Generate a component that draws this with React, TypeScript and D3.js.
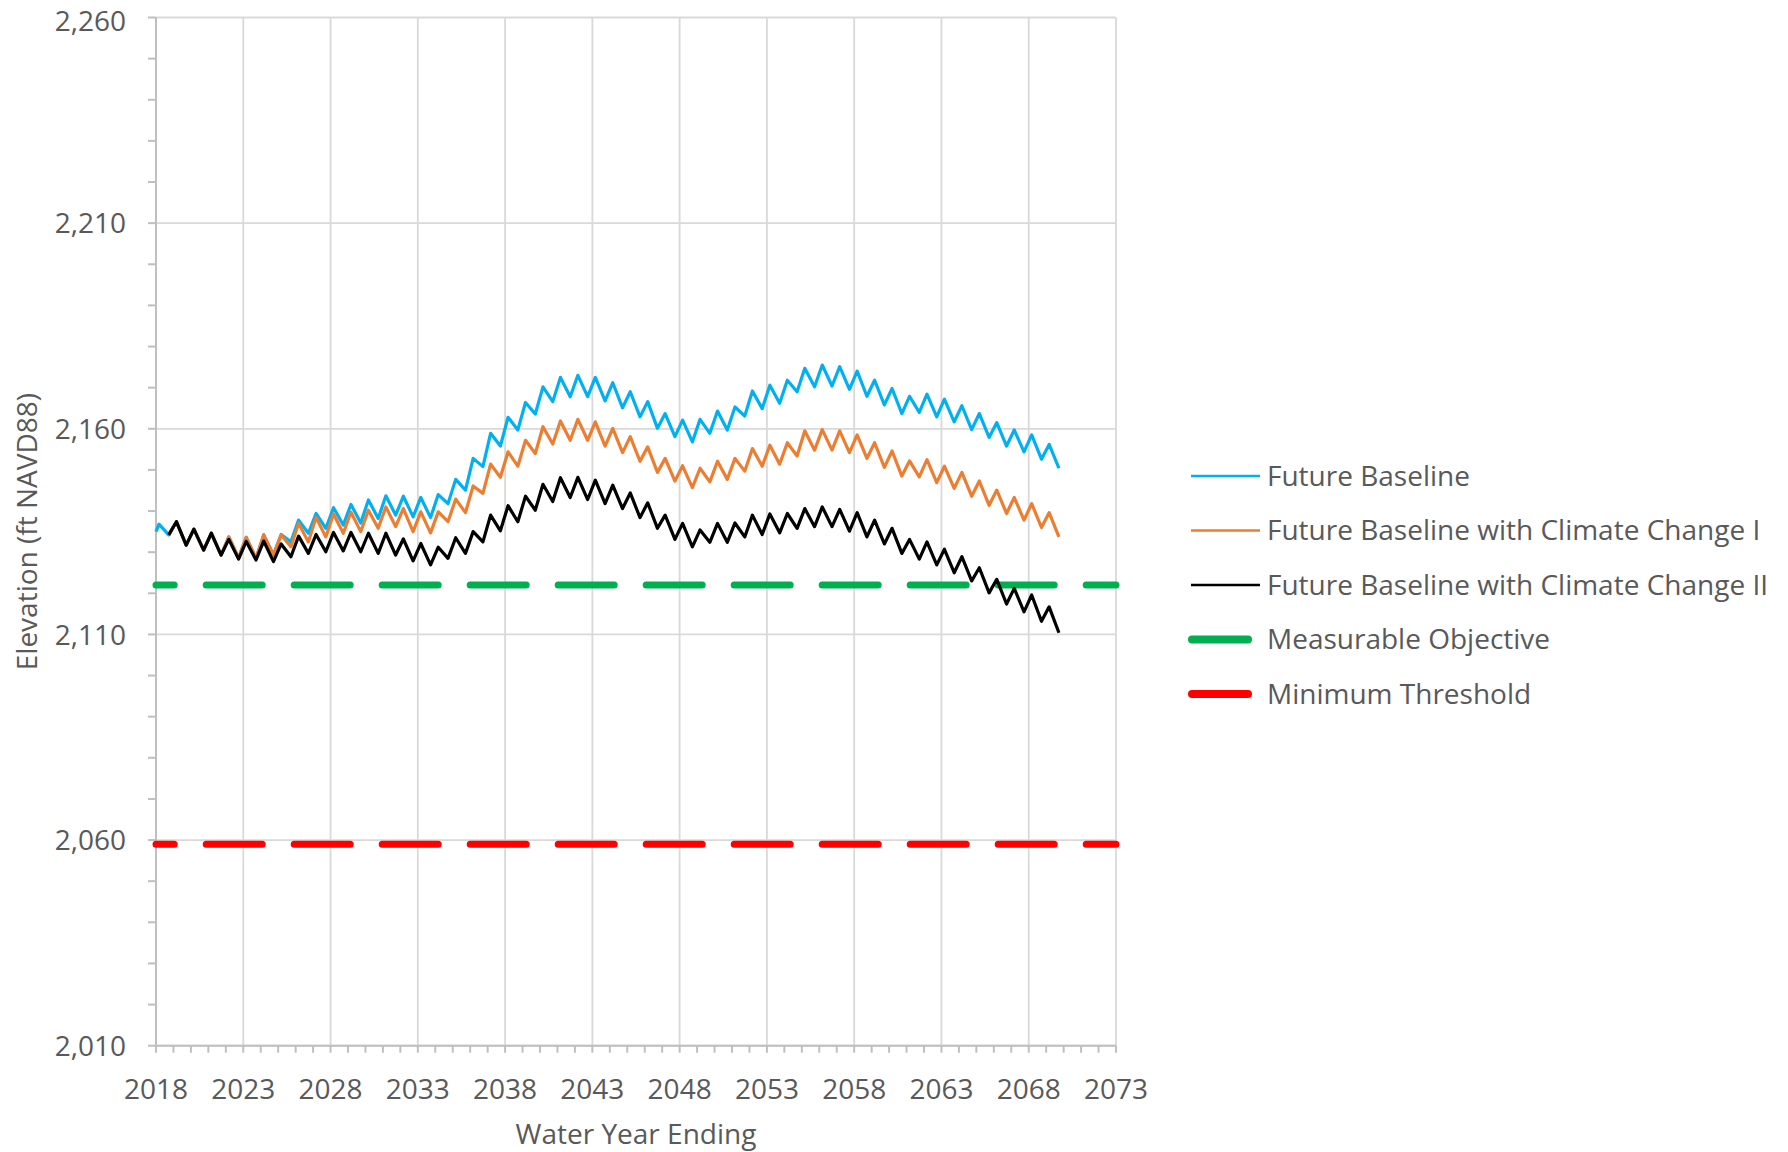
import * as d3 from "d3";
import React from "react";

// water years shown (one seasonal high + low per year)
const years = d3.range(2018, 2070);

// value at the start of the record (Future Baseline only)
const baselineStart = 2135.0;

// seasonal highs (early in the year) and lows (late in the year), ft NAVD88
const baselineHigh = [
  2136.8, 2137.4, 2135.6, 2134.6, 2133.7, 2133.6, 2134.2, 2134.3, 2137.8, 2139.4,
  2140.8, 2141.6, 2142.7, 2143.7, 2143.6, 2143.3, 2144.0, 2147.7, 2152.8, 2158.9,
  2162.8, 2166.4, 2170.2, 2172.5, 2173.0, 2172.5, 2171.2, 2169.0, 2166.6, 2163.7,
  2162.1, 2162.3, 2164.3, 2165.3, 2169.2, 2170.6, 2171.8, 2174.7, 2175.5, 2175.1,
  2174.0, 2171.8, 2169.8, 2167.9, 2168.4, 2167.2, 2165.6, 2163.7, 2161.5, 2159.7,
  2158.5, 2156.2,
];
const baselineLow = [
  2134.2, 2131.7, 2130.5, 2129.3, 2128.6, 2128.5, 2129.3, 2132.5, 2134.6, 2135.8,
  2136.6, 2137.1, 2138.2, 2139.0, 2138.6, 2138.4, 2141.8, 2145.1, 2150.8, 2155.8,
  2159.7, 2163.6, 2166.6, 2167.8, 2167.8, 2166.8, 2165.1, 2162.9, 2160.1, 2158.1,
  2156.8, 2158.9, 2159.7, 2163.1, 2164.9, 2166.2, 2169.0, 2170.2, 2170.4, 2169.6,
  2167.9, 2165.8, 2163.7, 2164.0, 2162.9, 2161.7, 2159.8, 2157.9, 2155.8, 2154.4,
  2152.6, 2150.4,
];
const cc1High = [
  null, 2137.4, 2135.6, 2134.6, 2133.7, 2133.6, 2134.2, 2134.2, 2137.0, 2138.4,
  2139.3, 2139.7, 2140.2, 2141.0, 2140.6, 2139.8, 2139.8, 2142.9, 2146.1, 2151.4,
  2154.4, 2157.2, 2160.5, 2161.9, 2162.3, 2161.7, 2160.1, 2158.1, 2155.6, 2152.8,
  2151.0, 2150.4, 2152.1, 2152.8, 2155.2, 2156.0, 2156.6, 2159.5, 2159.8, 2159.5,
  2158.5, 2156.6, 2154.6, 2152.2, 2152.5, 2150.9, 2149.4, 2147.3, 2145.1, 2143.3,
  2141.8, 2139.6,
];
const cc1Low = [
  2134.2, 2131.7, 2130.5, 2129.3, 2128.6, 2128.5, 2129.3, 2131.3, 2132.5, 2133.7,
  2134.6, 2135.0, 2135.8, 2136.2, 2135.0, 2134.7, 2137.4, 2139.6, 2144.3, 2148.2,
  2150.9, 2154.0, 2156.3, 2157.2, 2157.2, 2155.8, 2154.2, 2152.1, 2149.4, 2147.3,
  2145.7, 2147.1, 2147.7, 2149.7, 2150.9, 2151.4, 2153.4, 2154.8, 2154.8, 2154.2,
  2152.8, 2150.6, 2148.5, 2148.3, 2146.9, 2145.5, 2143.6, 2141.4, 2139.4, 2137.8,
  2136.0, 2133.7,
];
const cc2High = [
  null, 2137.4, 2135.6, 2134.6, 2133.1, 2132.6, 2132.7, 2132.0, 2133.9, 2134.3,
  2134.8, 2134.8, 2134.6, 2134.6, 2133.2, 2132.1, 2131.2, 2133.5, 2135.0, 2139.0,
  2141.3, 2143.6, 2146.5, 2148.1, 2148.2, 2147.5, 2146.3, 2144.4, 2142.0, 2139.0,
  2137.0, 2135.4, 2137.0, 2137.1, 2139.0, 2139.3, 2139.4, 2140.6, 2141.0, 2140.4,
  2139.6, 2137.8, 2135.8, 2133.1, 2132.5, 2130.7, 2128.9, 2126.2, 2123.4, 2121.2,
  2119.6, 2116.7,
];
const cc2Low = [
  2134.2, 2131.7, 2130.5, 2129.3, 2128.3, 2128.1, 2127.7, 2128.9, 2129.7, 2130.1,
  2130.3, 2130.1, 2129.7, 2129.3, 2127.9, 2126.9, 2128.5, 2129.7, 2132.5, 2135.2,
  2137.4, 2140.2, 2142.3, 2143.3, 2142.8, 2141.8, 2140.6, 2138.4, 2135.8, 2133.1,
  2131.3, 2132.4, 2132.4, 2133.7, 2134.3, 2134.7, 2135.8, 2136.2, 2136.2, 2135.1,
  2133.7, 2132.0, 2129.7, 2128.3, 2126.9, 2125.0, 2123.0, 2120.1, 2117.4, 2115.5,
  2113.2, 2110.4,
];

const measurableObjective = 2122;
const minimumThreshold = 2059;

const xTicks = d3.range(2018, 2074, 5);
const yTicks = d3.range(2010, 2261, 50);

const seriesNames = [
  "Future Baseline",
  "Future Baseline with Climate Change I",
  "Future Baseline with Climate Change II",
];
const thresholdNames = ["Measurable Objective", "Minimum Threshold"];

const W = 1788;
const H = 1152;
const plot = { left: 156, right: 1116, top: 17.5, bottom: 1045.7 };
const font = "'Open Sans', sans-serif";
const textColor = "#595959";
const fontSize = 28;

type Pt = { t: number; v: number };

function buildSeries(high: (number | null)[], low: number[], start?: number): Pt[] {
  const pts: Pt[] = [];
  if (start !== undefined) pts.push({ t: years[0], v: start });
  years.forEach((y, i) => {
    if (high[i] !== null) pts.push({ t: y + 0.17, v: high[i] as number });
    pts.push({ t: y + 0.73, v: low[i] });
  });
  return pts;
}

export default function App() {
  const x = d3.scaleLinear().domain([2018, 2073]).range([plot.left, plot.right]);
  const y = d3.scaleLinear().domain([2010, 2260]).range([plot.bottom, plot.top]);

  const line = d3
    .line<Pt>()
    .x((d) => x(d.t))
    .y((d) => y(d.v));

  const series = [
    { name: seriesNames[0], color: "#00B0F0", pts: buildSeries(baselineHigh, baselineLow, baselineStart) },
    { name: seriesNames[1], color: "#ED7D31", pts: buildSeries(cc1High, cc1Low) },
    { name: seriesNames[2], color: "#000000", pts: buildSeries(cc2High, cc2Low) },
  ];
  const thresholds = [
    { name: thresholdNames[0], color: "#00B050", value: measurableObjective },
    { name: thresholdNames[1], color: "#FF0000", value: minimumThreshold },
  ];

  const minorY = d3.range(2010, 2261, 10);
  const minorX = d3.range(2018, 2074, 1);
  const fmt = d3.format(",");

  // keep the top label's ascent inside the picture
  const yLabelBaseline = (t: number) => Math.max(y(t) + 0.36 * fontSize, 1.07 * fontSize + 1);

  const legendX = 1191;
  const legendY0 = 476;
  const legendStep = 54.5;

  return (
    <svg
      width={W}
      height={H}
      style={{ position: "absolute", left: 0, top: 0, background: "#fff" }}
      fontFamily={font}
    >
      <rect width={W} height={H} fill="#fff" />

      {/* gridlines */}
      {yTicks.map((t) => (
        <line key={"gy" + t} x1={plot.left} x2={plot.right} y1={y(t)} y2={y(t)} stroke="#d9d9d9" strokeWidth={1.8} />
      ))}
      {xTicks.map((t) => (
        <line key={"gx" + t} x1={x(t)} x2={x(t)} y1={plot.top} y2={plot.bottom} stroke="#d9d9d9" strokeWidth={1.8} />
      ))}

      {/* axes */}
      <line x1={plot.left} x2={plot.left} y1={plot.top} y2={plot.bottom} stroke="#bfbfbf" strokeWidth={2} />
      <line x1={plot.left} x2={plot.right} y1={plot.bottom} y2={plot.bottom} stroke="#bfbfbf" strokeWidth={2} />
      {minorY.map((t) => (
        <line key={"ty" + t} x1={plot.left - 8} x2={plot.left} y1={y(t)} y2={y(t)} stroke="#bfbfbf" strokeWidth={2} />
      ))}
      {minorX.map((t) => (
        <line key={"tx" + t} x1={x(t)} x2={x(t)} y1={plot.bottom} y2={plot.bottom + 7} stroke="#bfbfbf" strokeWidth={2} />
      ))}

      {/* tick labels */}
      {yTicks.map((t) => (
        <text key={"ly" + t} x={126} y={yLabelBaseline(t)} textAnchor="end" fontSize={fontSize} fill={textColor}>
          {fmt(t)}
        </text>
      ))}
      {xTicks.map((t) => (
        <text key={"lx" + t} x={x(t)} y={1089} dy="0.35em" textAnchor="middle" fontSize={fontSize} fill={textColor}>
          {t}
        </text>
      ))}

      {/* axis titles */}
      <text x={(plot.left + plot.right) / 2} y={1134} dy="0.35em" textAnchor="middle" fontSize={fontSize} fill={textColor}>
        Water Year Ending
      </text>
      <text
        transform={`translate(27, ${(plot.top + plot.bottom) / 2}) rotate(-90)`}
        dy="0.35em"
        textAnchor="middle"
        fontSize={fontSize}
        fill={textColor}
      >
        Elevation (ft NAVD88)
      </text>

      {/* threshold lines */}
      {thresholds.map((d) => (
        <line
          key={d.name}
          x1={x(2018)}
          x2={x(2073)}
          y1={y(d.value)}
          y2={y(d.value)}
          stroke={d.color}
          strokeWidth={7}
          strokeLinecap="round"
          strokeDasharray="56 32"
          strokeDashoffset={37.8}
        />
      ))}

      {/* series */}
      {series.map((s) => (
        <path key={s.name} d={line(s.pts) || ""} fill="none" stroke={s.color} strokeWidth={3.2} strokeLinejoin="round" />
      ))}

      {/* legend */}
      {series.map((s, i) => (
        <g key={"leg" + s.name} transform={`translate(0, ${legendY0 + i * legendStep})`}>
          <line x1={legendX} x2={legendX + 69} y1={0} y2={0} stroke={s.color} strokeWidth={2.5} />
          <text x={legendX + 76} y={0} dy="0.35em" fontSize={fontSize} fill={textColor}>
            {s.name}
          </text>
        </g>
      ))}
      {thresholds.map((d, i) => (
        <g key={"leg" + d.name} transform={`translate(0, ${legendY0 + (i + 3) * legendStep})`}>
          <line x1={legendX + 1} x2={legendX + 57} y1={0} y2={0} stroke={d.color} strokeWidth={8} strokeLinecap="round" />
          <text x={legendX + 76} y={0} dy="0.35em" fontSize={fontSize} fill={textColor}>
            {d.name}
          </text>
        </g>
      ))}
    </svg>
  );
}
